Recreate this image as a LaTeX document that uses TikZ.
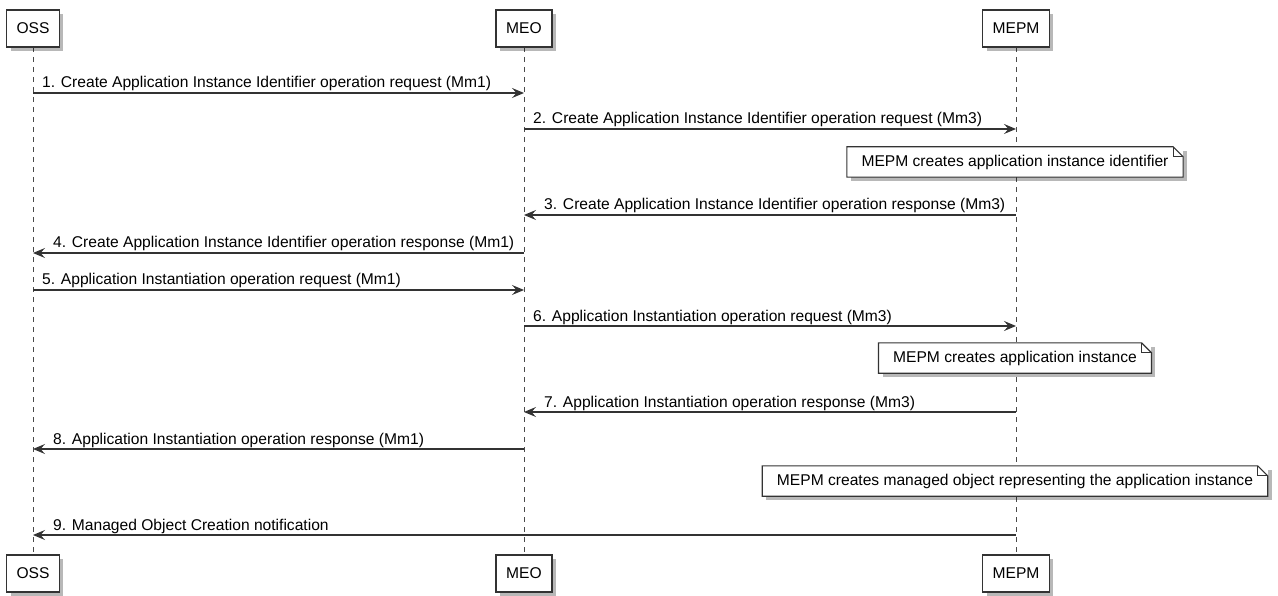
\documentclass[tikz,border=0pt]{standalone}
\usepackage{fontspec}
\setmainfont{Liberation Sans}
\usetikzlibrary{arrows.meta,shadows}
\definecolor{ln}{HTML}{333333}
\definecolor{life}{HTML}{4A4A4A}
\tikzset{
  part/.style={draw=ln, line width=1.5pt, fill=white, minimum height=37pt, inner xsep=10pt, inner ysep=0pt,
    font=\fontsize{15.6}{18}\selectfont,
    drop shadow={shadow xshift=4pt, shadow yshift=-4pt, opacity=0.28, fill=black}},
  msg/.style={draw=ln, line width=1.2pt, -{Stealth[length=12pt,width=10pt,inset=4.5pt]}},
  lbl/.style={font=\fontsize{15.6}{18}\selectfont, inner sep=0pt, anchor=base west, text=black},
  lifeline/.style={draw=life, dash pattern=on 5pt off 5pt, line width=1pt},
  notebox/.style={fill=white, minimum height=30pt, inner xsep=14.5pt, inner ysep=0pt,
    font=\fontsize{15.6}{18}\selectfont,
    drop shadow={shadow xshift=4pt, shadow yshift=-4pt, opacity=0.28, fill=black}},
  noteline/.style={draw=ln, line width=1.1pt, line join=miter}
}
\newcommand{\notefold}[1]{%
  \draw[noteline] (#1.north west) -- ([xshift=-10pt]#1.north east) -- ([yshift=-10pt]#1.north east) -- (#1.south east) -- (#1.south west) -- cycle;
  \draw[noteline] ([xshift=-10pt]#1.north east) |- ([yshift=-10pt]#1.north east);
}
\begin{document}
\begin{tikzpicture}[x=1pt,y=-1pt]
\useasboundingbox (0,0) rectangle (1278,596);
% lifelines
\coordinate (ossT) at (33,47); \coordinate (ossB) at (33,555);
\coordinate (meoT) at (524,47); \coordinate (meoB) at (524,555);
\coordinate (mepmT) at (1016,47); \coordinate (mepmB) at (1016,555);
\draw[lifeline] (ossT) -- (ossB);
\draw[lifeline] (meoT) -- (meoB);
\draw[lifeline] (mepmT) -- (mepmB);
% participants
\node[part] (oss) at (33,28.5) {OSS};
\node[part] (meo) at (524,28.5) {MEO};
\node[part] (mepm) at (1016,28.5) {MEPM};
\node[part] (oss2) at (33,573.5) {OSS};
\node[part] (meo2) at (524,573.5) {MEO};
\node[part] (mepm2) at (1016,573.5) {MEPM};
% message anchors
\coordinate (o1) at (33,93);   \coordinate (e1) at (524,93);
\coordinate (e2) at (524,129); \coordinate (p2) at (1016,129);
\coordinate (p3) at (1016,215); \coordinate (e3) at (524,215);
\coordinate (e4) at (524,253); \coordinate (o4) at (33,253);
\coordinate (o5) at (33,290);  \coordinate (e5) at (524,290);
\coordinate (e6) at (524,326); \coordinate (p6) at (1016,326);
\coordinate (p7) at (1016,412); \coordinate (e7) at (524,412);
\coordinate (e8) at (524,449); \coordinate (o8) at (33,449);
\coordinate (p9) at (1016,535); \coordinate (o9) at (33,535);
% messages
\draw[msg] (o1) -- (e1);
\node[lbl] (l1) at (42,88) {1. Create Application Instance Identifier operation request (Mm1)};
\draw[msg] (e2) -- (p2);
\node[lbl] (l2) at (533,124) {2. Create Application Instance Identifier operation request (Mm3)};
\node[notebox] (n1) at (1015,162) {MEPM creates application instance identifier};
\notefold{n1}
\draw[msg] (p3) -- (e3);
\node[lbl] (l3) at (544,210) {3. Create Application Instance Identifier operation response (Mm3)};
\draw[msg] (e4) -- (o4);
\node[lbl] (l4) at (53,248) {4. Create Application Instance Identifier operation response (Mm1)};
\draw[msg] (o5) -- (e5);
\node[lbl] (l5) at (42,285) {5. Application Instantiation operation request (Mm1)};
\draw[msg] (e6) -- (p6);
\node[lbl] (l6) at (533,321) {6. Application Instantiation operation request (Mm3)};
\node[notebox] (n2) at (1015,358) {MEPM creates application instance};
\notefold{n2}
\draw[msg] (p7) -- (e7);
\node[lbl] (l7) at (544,407) {7. Application Instantiation operation response (Mm3)};
\draw[msg] (e8) -- (o8);
\node[lbl] (l8) at (53,444) {8. Application Instantiation operation response (Mm1)};
\node[notebox] (n3) at (1015,481) {MEPM creates managed object representing the application instance};
\notefold{n3}
\draw[msg] (p9) -- (o9);
\node[lbl] (l9) at (53,530) {9. Managed Object Creation notification};
\end{tikzpicture}
\end{document}
